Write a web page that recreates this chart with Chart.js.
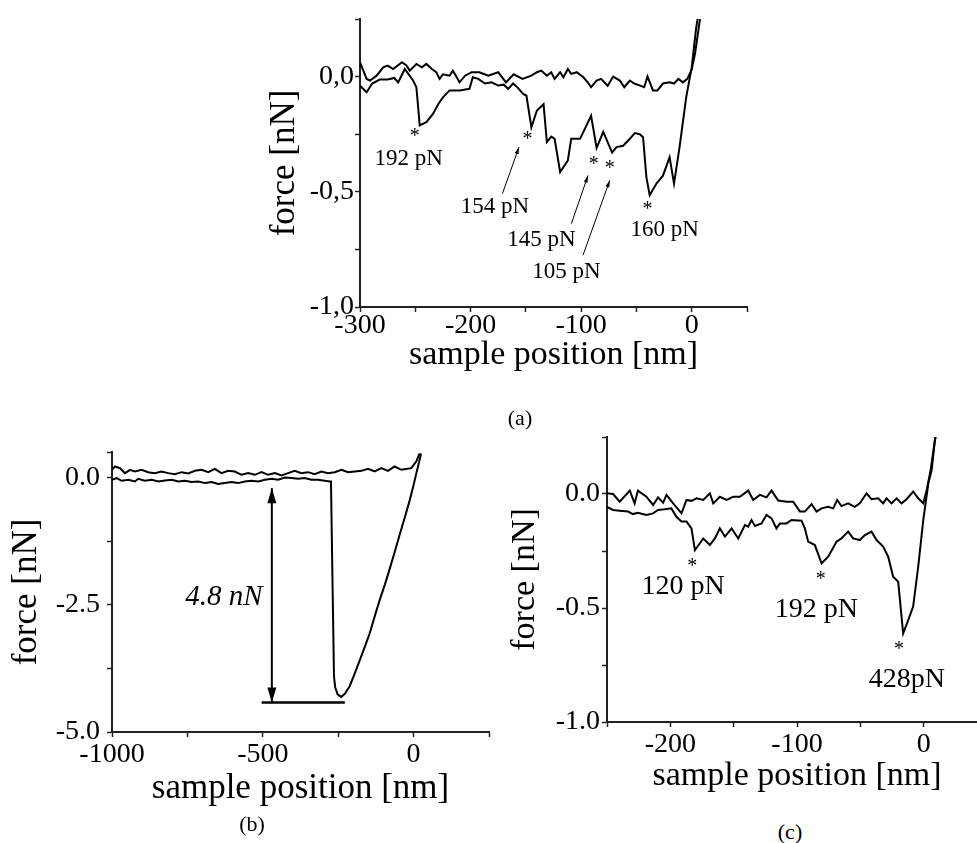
<!DOCTYPE html>
<html>
<head>
<meta charset="utf-8">
<script src="https://cdn.jsdelivr.net/npm/chart.js@4"></script>
<style>
body{margin:0;width:977px;height:843px;overflow:hidden;background:#fff;position:relative;font-family:"Liberation Serif","Times New Roman",serif;}
canvas{position:absolute;}
.cap{position:absolute;font-size:22px;transform:translate(-50%,-50%);color:#000;}
</style>
</head>
<body>
<canvas id="chartA" width="510" height="390" style="left:250px;top:0px"></canvas>
<canvas id="chartB" width="500" height="400" style="left:0px;top:420px"></canvas>
<canvas id="chartC" width="500" height="390" style="left:497px;top:420px"></canvas>
<div class="cap" style="left:520px;top:418px">(a)</div>
<div class="cap" style="left:252px;top:824px">(b)</div>
<div class="cap" style="left:790px;top:832px">(c)</div>
<script>
var serif = '"Liberation Serif", "Times New Roman", serif';

// panel (a): [sample position nm, force nN]
var aApproach = [[-300,0.062],[-294,-0.01],[-291,-0.017],[-285,0.004],[-279,0.04],[-275,0.048],[-270,0.033],[-262,0.062],[-258,0.048],[-255,0.026],[-249,0.055],[-244,0.04],[-240,0.055],[-235,0.033],[-231,0.019],[-228,-0.01],[-225,0.01],[-219,0.004],[-216,0.026],[-210,-0.025],[-205,0.004],[-199,0.019],[-192,0.019],[-184,0.004],[-175,0.019],[-168,-0.025],[-161,0.01],[-153,-0.01],[-145,0.004],[-140,0.019],[-136,0.026],[-131,0.004],[-127,0.019],[-124,-0.01],[-119,0.019],[-116,-0.003],[-112,0.033],[-109,0.012],[-104,0.019],[-98,-0.003],[-94,-0.025],[-91,-0.046],[-86,-0.017],[-82,-0.01],[-76,-0.04],[-71,0],[-65,-0.017],[-61,-0.046],[-56,-0.017],[-52,-0.03],[-46,-0.04],[-43,-0.046],[-40,0],[-35,-0.06],[-31,-0.06],[-26,-0.03],[-20,-0.025],[-16,-0.03],[-12,-0.01],[-8,-0.025],[-4,-0.01],[0,0.03],[3,0.1],[6,0.2],[9,0.3]];
var aRetract = [[-300,-0.04],[-294,-0.068],[-289,-0.03],[-282,-0.013],[-275,-0.013],[-269,-0.006],[-265.5,-0.025],[-259.5,0.033],[-252,-0.017],[-249,-0.046],[-246,-0.212],[-240,-0.198],[-234,-0.162],[-229,-0.118],[-225,-0.09],[-219,-0.06],[-210,-0.06],[-201,-0.053],[-198,-0.003],[-193,-0.01],[-187,-0.03],[-181,-0.025],[-175,-0.039],[-170,-0.035],[-166,-0.053],[-161.5,-0.03],[-157,-0.05],[-152.5,-0.075],[-149.5,-0.082],[-145,-0.22],[-140,-0.147],[-134,-0.12],[-131,-0.284],[-127,-0.26],[-124,-0.27],[-119,-0.414],[-112,-0.364],[-109,-0.27],[-101,-0.27],[-91,-0.17],[-86,-0.31],[-80,-0.24],[-72,-0.33],[-68,-0.306],[-62,-0.3],[-56,-0.27],[-51.5,-0.245],[-47,-0.25],[-44,-0.263],[-41,-0.436],[-38,-0.515],[-32,-0.465],[-26,-0.43],[-20,-0.35],[-16,-0.465],[-11,-0.306],[-5,-0.09],[0,0.04],[4,0.21],[7,0.3]];
var aXTicks = [-300,-250,-200,-150,-100,-50,0,50];
var aXLabels = [-300,-200,-100,0];
var aYTicks = [-1,-0.75,-0.5,-0.25,0,0.25];
var aYLabels = [-1,-0.5,0];

// panel (b)
var bApproach = [[-1000,0.15],[-990,0.215],[-973.5,0.182],[-957,0.085],[-940,0.15],[-924,0.117],[-902,0.15],[-880,0.104],[-858,0.085],[-835.5,0.117],[-813.6,0.085],[-791,0.065],[-769,0.104],[-747,0.078],[-725,0.13],[-703,0.15],[-681,0.104],[-659,0.169],[-637,0.085],[-615,0.13],[-593,0.117],[-570.5,0.052],[-548.6,0.085],[-526.5,0.052],[-504,0.104],[-482.5,0.052],[-460,0.085],[-438,0.039],[-416,0.085],[-394,0.13],[-372,0.085],[-350,0.104],[-328,0.065],[-305.6,0.117],[-283.8,0.085],[-261.6,0.104],[-239.4,0.15],[-217.5,0.104],[-195,0.117],[-173,0.13],[-151,0.169],[-129,0.117],[-107,0.182],[-85,0.13],[-63,0.215],[-40.7,0.15],[-7.7,0.182],[8.8,0.313],[20,0.475]];
var bRetract = [[-1000,-0.046],[-984.5,-0.013],[-968,-0.065],[-946,-0.046],[-924,-0.078],[-913,-0.026],[-891,-0.065],[-868.5,-0.046],[-846,-0.078],[-824.5,-0.059],[-802,-0.046],[-780,-0.078],[-758,-0.065],[-736,-0.091],[-714,-0.078],[-692,-0.111],[-670,-0.091],[-648,-0.13],[-626,-0.111],[-604,-0.091],[-582,-0.111],[-559.6,-0.078],[-537.5,-0.065],[-515,-0.078],[-493,-0.046],[-471,-0.026],[-449,-0.046],[-427,0],[-405,-0.013],[-383,-0.026],[-361,-0.013],[-339,-0.046],[-317,-0.046],[-295,-0.065],[-278,-0.078],[-274,-0.08],[-269,-2.0],[-264,-3.9],[-260,-4.12],[-252,-4.26],[-240,-4.31],[-228,-4.25],[-212,-4.1],[-195,-3.85],[-179,-3.6],[-160,-3.3],[-146,-3.07],[-125,-2.65],[-113,-2.42],[-95,-2.1],[-79.5,-1.8],[-62,-1.45],[-46,-1.12],[-30,-0.8],[-13,-0.45],[0,-0.15],[9,0.08],[18,0.3],[25,0.47]];
var bXTicks = [-1000,-750,-500,-250,0,250];
var bXLabels = [-1000,-500,0];
var bYTicks = [-5,-3.75,-2.5,-1.25,0,0.5];
var bYLabels = [-5,-2.5,0];

// panel (c)
var cApproach = [[-250,0.003],[-245.2,0],[-240,-0.034],[-232,0.015],[-228.2,-0.041],[-225.6,0.015],[-218.9,-0.012],[-213.6,-0.048],[-209.7,-0.015],[-205.7,-0.038],[-203,-0.004],[-197.8,-0.041],[-191.2,-0.085],[-187.2,-0.026],[-183.3,-0.03],[-179.3,-0.019],[-174,-0.026],[-168.8,0.003],[-166.1,-0.041],[-160.9,-0.012],[-155.6,-0.026],[-150.4,-0.012],[-145.1,-0.012],[-138.5,0.015],[-134.6,-0.026],[-129.3,-0.004],[-124.1,-0.015],[-120.1,0.015],[-114.8,-0.029],[-108.3,-0.034],[-103,-0.034],[-97.7,-0.077],[-93.8,-0.077],[-88.5,-0.044],[-84.6,-0.077],[-80.6,-0.063],[-75.4,-0.056],[-71.4,-0.063],[-68.3,-0.026],[-64.9,-0.053],[-59.6,-0.041],[-54.4,-0.056],[-50.4,-0.041],[-45.1,0.003],[-41.2,-0.023],[-35.9,-0.019],[-32,-0.041],[-29.3,-0.019],[-25.4,-0.041],[-21.4,-0.019],[-17.5,-0.041],[-13.5,-0.023],[-8.3,0.011],[-4.3,-0.019],[-0.3,-0.041],[2.4,0.018],[5.5,0.105],[8.9,0.237],[11,0.3]];
var cRetract = [[-250,-0.056],[-245.2,-0.07],[-240,-0.073],[-233.4,-0.077],[-229.5,-0.088],[-225.6,-0.082],[-218.9,-0.092],[-213.6,-0.085],[-209.7,-0.07],[-204.4,-0.067],[-199.2,-0.063],[-195.2,-0.1],[-191.2,-0.121],[-187.2,-0.121],[-183.3,-0.151],[-180.6,-0.246],[-176.7,-0.216],[-174,-0.195],[-168.8,-0.224],[-164.8,-0.195],[-160.9,-0.151],[-156.9,-0.187],[-151.6,-0.151],[-146.4,-0.195],[-141.1,-0.136],[-138.5,-0.143],[-135.9,-0.114],[-133.2,-0.14],[-128,-0.129],[-124.1,-0.092],[-120.1,-0.107],[-116.2,-0.151],[-113.5,-0.129],[-108.3,-0.129],[-104.3,-0.114],[-96.4,-0.117],[-93.8,-0.151],[-91.2,-0.209],[-85.9,-0.224],[-80.6,-0.304],[-75.4,-0.275],[-68.8,-0.209],[-64.9,-0.195],[-59.6,-0.165],[-55.7,-0.195],[-50.4,-0.202],[-46.4,-0.18],[-41.2,-0.165],[-37.2,-0.202],[-32,-0.231],[-28,-0.275],[-24.1,-0.363],[-20.1,-0.385],[-16.2,-0.611],[-12.2,-0.553],[-8.3,-0.494],[-4.3,-0.319],[-0.3,-0.114],[3.7,0.047],[6.3,0.105],[8.9,0.237],[11,0.3]];
var cXTicks = [-250,-200,-150,-100,-50,0,50];
var cXLabels = [-200,-100,0];
var cYTicks = [-1,-0.75,-0.5,-0.25,0,0.25];
var cYLabels = [-1,-0.5,0];

function pts(arr){
    return arr.map(function(p){ return {x:p[0], y:p[1]}; });
}

function arrowHead(ctx, x1, y1, x2, y2, len, wid){
    var ang = Math.atan2(y2-y1, x2-x1);
    var bx = x2 - len*Math.cos(ang), by = y2 - len*Math.sin(ang);
    ctx.beginPath();
    ctx.moveTo(x2, y2);
    ctx.lineTo(bx + wid/2*Math.sin(ang), by - wid/2*Math.cos(ang));
    ctx.lineTo(bx - wid/2*Math.sin(ang), by + wid/2*Math.cos(ang));
    ctx.closePath();
    ctx.fill();
}

// labels, stars and arrows placed in data coordinates
function notesPlugin(notes){
    return {
        id:'notes',
        afterDatasetsDraw:function(chart){
            var ctx = chart.ctx, xs = chart.scales.x, ys = chart.scales.y;
            ctx.save();
            ctx.fillStyle = '#000';
            ctx.strokeStyle = '#000';
            (notes.lines || []).forEach(function(l){
                ctx.lineWidth = l.w;
                ctx.beginPath();
                ctx.moveTo(xs.getPixelForValue(l.p[0]), ys.getPixelForValue(l.p[1]));
                ctx.lineTo(xs.getPixelForValue(l.p[2]), ys.getPixelForValue(l.p[3]));
                ctx.stroke();
            });
            (notes.arrows || []).forEach(function(a){
                var x1 = xs.getPixelForValue(a.p[0]), y1 = ys.getPixelForValue(a.p[1]);
                var x2 = xs.getPixelForValue(a.p[2]), y2 = ys.getPixelForValue(a.p[3]);
                ctx.lineWidth = a.w;
                ctx.beginPath();
                ctx.moveTo(x1, y1);
                ctx.lineTo(x2, y2);
                ctx.stroke();
                arrowHead(ctx, x1, y1, x2, y2, a.len, a.wid);
                if(a.both){ arrowHead(ctx, x2, y2, x1, y1, a.len, a.wid); }
            });
            ctx.textAlign = 'center';
            ctx.textBaseline = 'middle';
            (notes.texts || []).forEach(function(t){
                ctx.font = (t.italic ? 'italic ' : '') + t.size + 'px ' + serif;
                ctx.fillText(t.t, xs.getPixelForValue(t.x), ys.getPixelForValue(t.y) + (t.dy || 0));
            });
            ctx.restore();
        }
    };
}

function forceChart(id, o){
    return new Chart(document.getElementById(id), {
        type:'line',
        data:{
            datasets:o.series.map(function(s){
                return {data:pts(s), borderColor:'#000', borderWidth:2, pointRadius:0, tension:0, fill:false};
            })
        },
        options:{
            responsive:false,
            animation:false,
            devicePixelRatio:1,
            layout:{padding:{top:o.padTop, right:o.padRight, left:0, bottom:0}},
            plugins:{legend:{display:false}, tooltip:{enabled:false}},
            scales:{
                x:{
                    type:'linear', min:o.xMin, max:o.xMax,
                    afterBuildTicks:function(s){ s.ticks = o.xTicks.map(function(v){ return {value:v}; }); },
                    afterFit:function(s){ s.height = o.xHeight; },
                    grid:{drawOnChartArea:false, drawTicks:true, tickLength:5, tickWidth:1.5, tickColor:'#222'},
                    border:{color:'#222', width:2},
                    ticks:{
                        padding:o.xPad, color:'#000', maxRotation:0, autoSkip:false,
                        font:{family:serif, size:28, lineHeight:1},
                        callback:function(v){ return o.xLabels.indexOf(v) >= 0 ? String(v) : ''; }
                    },
                    title:{display:true, text:'sample position [nm]', color:'#000',
                        font:{family:serif, size:o.xTitleSize, lineHeight:1}, padding:{top:0, bottom:o.xTitlePad}}
                },
                y:{
                    type:'linear', min:o.yMin, max:o.yMax,
                    afterBuildTicks:function(s){ s.ticks = o.yTicks.map(function(v){ return {value:v}; }); },
                    afterFit:function(s){ s.width = o.yWidth; },
                    grid:{drawOnChartArea:false, drawTicks:true, tickLength:5, tickWidth:1.5, tickColor:'#222'},
                    border:{color:'#222', width:2},
                    ticks:{
                        padding:o.yPad, color:'#000', autoSkip:false,
                        font:{family:serif, size:28, lineHeight:1},
                        callback:function(v){ return o.yLabels.indexOf(v) >= 0 ? o.fmt(v) : ''; }
                    },
                    title:{display:true, text:'force [nN]', color:'#000',
                        font:{family:serif, size:o.yTitleSize, lineHeight:1}, padding:{top:o.yTitlePad, bottom:0}}
                }
            }
        },
        plugins:[notesPlugin(o.notes)]
    });
}

forceChart('chartA', {
    series:[aApproach, aRetract],
    xMin:-300, xMax:50, yMin:-1, yMax:0.25,
    xTicks:aXTicks, xLabels:aXLabels, yTicks:aYTicks, yLabels:aYLabels,
    fmt:function(v){ return v.toFixed(1).replace('.', ','); },
    padTop:19, padRight:13, yWidth:110, xHeight:83,
    xPad:0, yPad:1, xTitleSize:34, xTitlePad:18, yTitleSize:35, yTitlePad:17,
    notes:{
        texts:[
            {x:-250.5, y:-0.247, t:'*', size:20, dy:3}, {x:-255.9, y:-0.359, t:'192 pN', size:23},
            {x:-148.6, y:-0.263, t:'*', size:20, dy:3}, {x:-178, y:-0.567, t:'154 pN', size:23},
            {x:-88.6, y:-0.371, t:'*', size:20, dy:3}, {x:-135.9, y:-0.71, t:'145 pN', size:23},
            {x:-74.1, y:-0.385, t:'*', size:20, dy:3}, {x:-113.3, y:-0.847, t:'105 pN', size:23},
            {x:-40.1, y:-0.566, t:'*', size:20, dy:3}, {x:-24.4, y:-0.667, t:'160 pN', size:23}
        ],
        arrows:[
            {p:[-171.2,-0.508,-156.2,-0.306], w:1, len:7, wid:4},
            {p:[-108.8,-0.638,-93.8,-0.429], w:1, len:7, wid:4},
            {p:[-98.3,-0.775,-74.1,-0.45], w:1, len:7, wid:4}
        ]
    }
});

forceChart('chartB', {
    series:[bApproach, bRetract],
    xMin:-1000, xMax:250, yMin:-5, yMax:0.5,
    xTicks:bXTicks, xLabels:bXLabels, yTicks:bYTicks, yLabels:bYLabels,
    fmt:function(v){ return v.toFixed(1); },
    padTop:32, padRight:11, yWidth:112, xHeight:88,
    xPad:4, yPad:7, xTitleSize:35, xTitlePad:14, yTitleSize:35, yTitlePad:9,
    notes:{
        texts:[{x:-629, y:-2.36, t:'4.8 nN', size:29, italic:true}],
        lines:[{p:[-504,-4.42,-228,-4.42], w:2.5}],
        arrows:[{p:[-470,-0.21,-470,-4.42], w:2, len:15, wid:9, both:true}]
    }
});

forceChart('chartC', {
    series:[cApproach, cRetract],
    xMin:-250, xMax:50, yMin:-1, yMax:0.25,
    xTicks:cXTicks, xLabels:cXLabels, yTicks:cYTicks, yLabels:cYLabels,
    fmt:function(v){ return v.toFixed(1); },
    padTop:17, padRight:10, yWidth:110, xHeight:88,
    xPad:4, yPad:2, xTitleSize:34, xTitlePad:17, yTitleSize:34, yTitlePad:11,
    notes:{
        texts:[
            {x:-182.6, y:-0.304, t:'*', size:20, dy:3}, {x:-190, y:-0.407, t:'120 pN', size:28},
            {x:-81.3, y:-0.363, t:'*', size:20, dy:3}, {x:-84.7, y:-0.509, t:'192 pN', size:28},
            {x:-19.5, y:-0.672, t:'*', size:20, dy:3}, {x:-13.2, y:-0.816, t:'428pN', size:28}
        ]
    }
});
</script>
</body>
</html>
